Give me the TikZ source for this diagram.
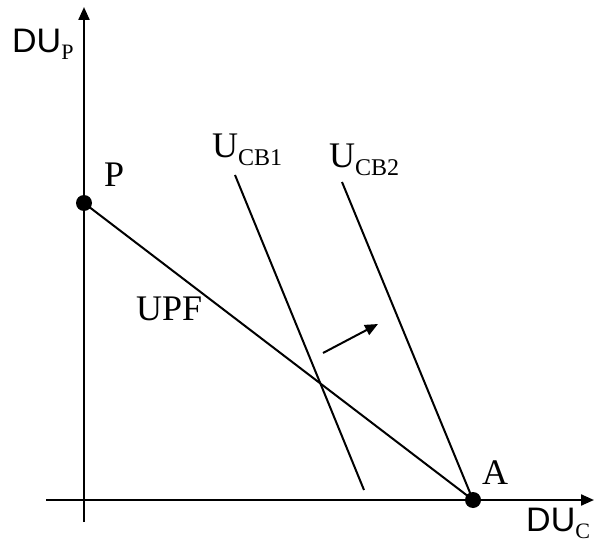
\documentclass[tikz,border=0pt]{standalone}
\usepackage{fontspec}
\setmainfont{Liberation Serif}
\newfontfamily\axfont{Liberation Sans}
\usetikzlibrary{arrows.meta}
\tikzset{
  ln/.style={line width=2pt, line cap=butt},
  axis/.style={line width=2.2pt, -{Triangle[length=13pt,width=11pt]}},
  dot/.style={circle, fill=black, inner sep=0pt, minimum size=16pt},
  lbl/.style={inner sep=0pt, anchor=base west, font=\fontsize{36}{36}\selectfont},
  axlbl/.style={inner sep=0pt, anchor=base west, font=\axfont\fontsize{34}{34}\selectfont},
}
\newcommand{\sbs}[1]{\raisebox{-8pt}{\fontsize{24}{24}\selectfont #1}}
\newcommand{\axsub}[1]{\raisebox{-7pt}{\rmfamily\fontsize{22}{22}\selectfont #1}}
\begin{document}
\begin{tikzpicture}[x=1pt,y=-1pt]
\useasboundingbox (0,0) rectangle (594,545);
% axes
\coordinate (ybot) at (84,522);
\coordinate (ytop) at (84,7);
\coordinate (xleft) at (46,500);
\coordinate (xright) at (594,500);
\draw[axis] (ybot) -- (ytop);
\draw[axis] (xleft) -- (xright);
% points
\node[dot] (P) at (84,203) {};
\node[dot] (A) at (473,500) {};
% lines
\draw[ln] (P.center) -- (A.center);
\coordinate (c1t) at (235,175);
\coordinate (c1b) at (364,490);
\draw[ln] (c1t) -- (c1b);
\coordinate (c2t) at (342,182);
\draw[ln] (c2t) -- (A.center);
% shift arrow
\coordinate (ars) at (323,353);
\coordinate (are) at (378,324);
\draw[ln, -{Triangle[length=13pt,width=11pt]}] (ars) -- (are);
% labels
\node[axlbl] (lDUP) at (12,53) {DU\axsub{P}};
\node[axlbl] (lDUC) at (526,531) {DU\axsub{C}};
\node[lbl] (lP) at (104,187) {P};
\node[lbl] (lA) at (482,484) {A};
\node[lbl] (lUPF) at (136,320) {UPF};
\node[lbl] (lU1) at (212,158) {U\sbs{CB1}};
\node[lbl] (lU2) at (329,168) {U\sbs{CB2}};
\end{tikzpicture}
\end{document}
